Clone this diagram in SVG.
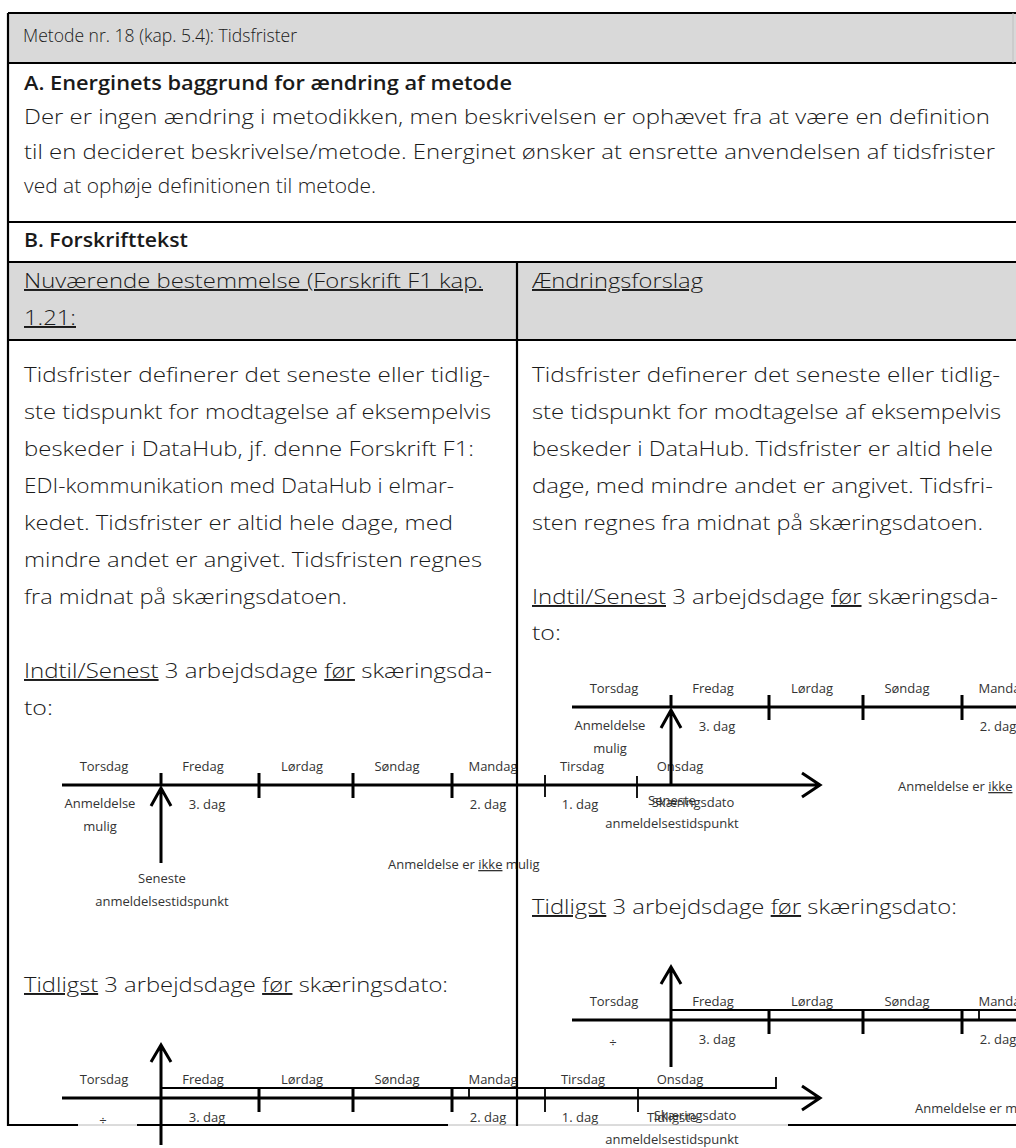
<svg xmlns="http://www.w3.org/2000/svg" xmlns:xlink="http://www.w3.org/1999/xlink" width="1016" height="1148" viewBox="0 0 1016 1148">
<style>
text{font-family:"Open Sans","Liberation Sans",sans-serif}
.t{font-size:19.5px;font-weight:300;fill:#1a1a1a}
.ti{font-size:19px}
.b{font-weight:600}
.u{text-decoration:underline}
.s{font-size:13px;fill:#333;text-anchor:middle;font-weight:400}
.sl{font-size:13px;fill:#333;font-weight:400}
.g{stroke:#000;stroke-width:2.2;fill:none}
.gl{stroke:#b8b8b8;stroke-width:1;fill:none}
.ax{stroke:#000;stroke-width:3;fill:none}
.tk{stroke:#000;stroke-width:3;fill:none}
.tn{stroke:#000;stroke-width:1.8;fill:none}
.hd{fill:#d9d9d9}
</style>
<defs>
<g id="tlSenest">
<text class="s" x="104" y="-14">Torsdag</text>
<text class="s" x="203" y="-14">Fredag</text>
<text class="s" x="302" y="-14">Lørdag</text>
<text class="s" x="397" y="-14">Søndag</text>
<text class="s" x="493" y="-14">Mandag</text>
<text class="s" x="582" y="-14">Tirsdag</text>
<text class="s" x="680" y="-14">Onsdag</text>
<path class="ax" d="M62,0H820M802,-12L820,0L802,12"/>
<path class="tk" d="M161,-12V0M259,-12V13M353,-12V13M452,-12V13"/>
<path class="tn" d="M545,-10V12M637,-9V13"/>
<path class="tk" d="M161,3V78M151,21L161,3L171,21"/>
<text class="s" x="100" y="23">Anmeldelse</text>
<text class="s" x="100" y="46">mulig</text>
<text class="s" x="207" y="24">3. dag</text>
<text class="s" x="488" y="24">2. dag</text>
<text class="s" x="580" y="24">1. dag</text>
<text class="s" x="693" y="22">Skæringsdato</text>
<text class="s" x="162" y="98">Seneste</text>
<text class="s" x="162" y="121">anmeldelsestidspunkt</text>
<text class="sl" x="388" y="84">Anmeldelse er <tspan class="u">ikke</tspan> mulig</text>
</g>
<g id="tlTidligst">
<text class="s" x="104" y="-14">Torsdag</text>
<text class="s" x="203" y="-14">Fredag</text>
<text class="s" x="302" y="-14">Lørdag</text>
<text class="s" x="397" y="-14">Søndag</text>
<text class="s" x="493" y="-14">Mandag</text>
<text class="s" x="583" y="-14">Tirsdag</text>
<text class="s" x="680" y="-14">Onsdag</text>
<path class="tn" d="M161,-10H776V-21"/>
<path class="ax" d="M62,0H820M802,-12L820,0L802,12"/>
<path class="tk" d="M259,-11V14M353,-11V14M452,-11V14"/>
<path class="tn" d="M469,-10V1M545,-10V14M638,-10V14"/>
<path class="tk" d="M161,-53V47M151,-36L161,-53L171,-36"/>
<text class="s" x="103" y="27">÷</text>
<text class="s" x="207" y="24">3. dag</text>
<text class="s" x="488" y="24">2. dag</text>
<text class="s" x="580" y="24">1. dag</text>
<text class="s" x="695" y="22">Skæringsdato</text>
<text class="s" x="162" y="102">Tidligste</text>
<text class="s" x="162" y="124">anmeldelsestidspunkt</text>
<text class="sl" x="405" y="93">Anmeldelse er mulig</text>
</g>
</defs>

<g id="backgrounds">
<rect class="hd" x="8" y="13" width="1008" height="50"/>
<rect class="hd" x="8" y="262" width="1008" height="78"/>
</g>

<g id="title">
<text class="t ti" x="23" y="42" textLength="274" lengthAdjust="spacingAndGlyphs">Metode nr. 18 (kap. 5.4): Tidsfrister</text>
</g>

<g id="sectionA">
<text class="t b" x="24" y="90" textLength="488" lengthAdjust="spacingAndGlyphs">A. Energinets baggrund for ændring af metode</text>
<text class="t" x="24" y="124" textLength="966" lengthAdjust="spacingAndGlyphs">Der er ingen ændring i metodikken, men beskrivelsen er ophævet fra at være en definition</text>
<text class="t" x="24" y="158.5" textLength="971" lengthAdjust="spacingAndGlyphs">til en decideret beskrivelse/metode. Energinet ønsker at ensrette anvendelsen af tidsfrister</text>
<text class="t" x="24" y="193" textLength="352" lengthAdjust="spacingAndGlyphs">ved at ophøje definitionen til metode.</text>
</g>

<g id="sectionB">
<text class="t b" x="24" y="247" textLength="164" lengthAdjust="spacingAndGlyphs">B. Forskrifttekst</text>
</g>

<g id="colLeft">
<text class="t u" x="24" y="288" textLength="459" lengthAdjust="spacingAndGlyphs">Nuværende bestemmelse (Forskrift F1 kap.</text>
<text class="t u" x="24" y="325" textLength="52" lengthAdjust="spacingAndGlyphs">1.21:</text>
<text class="t" x="24" y="382" textLength="466" lengthAdjust="spacingAndGlyphs">Tidsfrister definerer det seneste eller tidlig-</text>
<text class="t" x="24" y="419" textLength="467" lengthAdjust="spacingAndGlyphs">ste tidspunkt for modtagelse af eksempelvis</text>
<text class="t" x="24" y="456" textLength="450" lengthAdjust="spacingAndGlyphs">beskeder i DataHub, jf. denne Forskrift F1:</text>
<text class="t" x="24" y="493" textLength="430" lengthAdjust="spacingAndGlyphs">EDI-kommunikation med DataHub i elmar-</text>
<text class="t" x="24" y="530" textLength="429" lengthAdjust="spacingAndGlyphs">kedet. Tidsfrister er altid hele dage, med</text>
<text class="t" x="24" y="567" textLength="458" lengthAdjust="spacingAndGlyphs">mindre andet er angivet. Tidsfristen regnes</text>
<text class="t" x="24" y="604" textLength="323" lengthAdjust="spacingAndGlyphs">fra midnat på skæringsdatoen.</text>
<text class="t" x="24" y="678" textLength="468" lengthAdjust="spacingAndGlyphs"><tspan class="u">Indtil/Senest</tspan> 3 arbejdsdage <tspan class="u">før</tspan> skæringsda-</text>
<text class="t" x="24" y="715" textLength="29" lengthAdjust="spacingAndGlyphs">to:</text>
<text class="t" x="24" y="992" textLength="424" lengthAdjust="spacingAndGlyphs"><tspan class="u">Tidligst</tspan> 3 arbejdsdage <tspan class="u">før</tspan> skæringsdato:</text>
</g>

<g id="colRight">
<text class="t u" x="532" y="288" textLength="171" lengthAdjust="spacingAndGlyphs">Ændringsforslag</text>
<text class="t" x="532" y="382" textLength="468" lengthAdjust="spacingAndGlyphs">Tidsfrister definerer det seneste eller tidlig-</text>
<text class="t" x="532" y="419" textLength="469" lengthAdjust="spacingAndGlyphs">ste tidspunkt for modtagelse af eksempelvis</text>
<text class="t" x="532" y="456" textLength="461" lengthAdjust="spacingAndGlyphs">beskeder i DataHub. Tidsfrister er altid hele</text>
<text class="t" x="532" y="493" textLength="461" lengthAdjust="spacingAndGlyphs">dage, med mindre andet er angivet. Tidsfri-</text>
<text class="t" x="532" y="530" textLength="451" lengthAdjust="spacingAndGlyphs">sten regnes fra midnat på skæringsdatoen.</text>
<text class="t" x="532" y="604" textLength="466" lengthAdjust="spacingAndGlyphs"><tspan class="u">Indtil/Senest</tspan> 3 arbejdsdage <tspan class="u">før</tspan> skæringsda-</text>
<text class="t" x="532" y="640" textLength="29" lengthAdjust="spacingAndGlyphs">to:</text>
<text class="t" x="532" y="914" textLength="425" lengthAdjust="spacingAndGlyphs"><tspan class="u">Tidligst</tspan> 3 arbejdsdage <tspan class="u">før</tspan> skæringsdato:</text>
</g>

<g id="timelines">
<use xlink:href="#tlSenest" href="#tlSenest" transform="translate(0,785)"/>
<use xlink:href="#tlSenest" href="#tlSenest" transform="translate(510,707)"/>
<use xlink:href="#tlTidligst" href="#tlTidligst" transform="translate(0,1098)"/>
<use xlink:href="#tlTidligst" href="#tlTidligst" transform="translate(510,1020)"/>
</g>

<g id="grid">
<path class="g" d="M8,13H1016M8,63H1016M8,222H1016M8,262H1016M8,340H1016"/>
<path class="g" d="M8,1125H78M137,1125H448M788,1125H1016"/>
<path class="gl" d="M78,1125H137M448,1125H788"/>
<path class="g" d="M8,13V1126M517,262V1126"/>
<path d="M1013,13V63" stroke="#bfbfbf" stroke-width="1"/>
</g>
</svg>
